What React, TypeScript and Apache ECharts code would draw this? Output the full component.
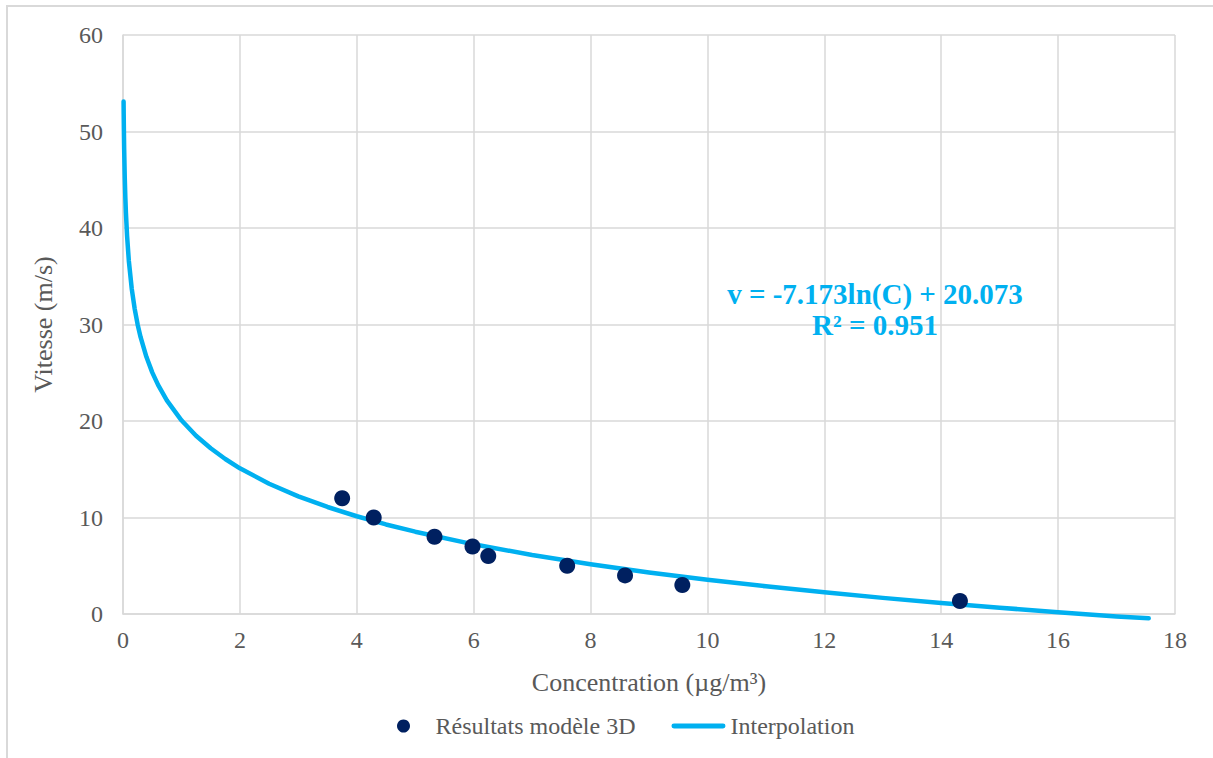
import React, { useEffect, useRef } from "react";
import * as echarts from "echarts";

// Scatter: results of the 3D model (Concentration µg/m³, Vitesse m/s)
const modelConcentration = [3.75, 4.29, 5.33, 5.98, 6.25, 7.6, 8.59, 9.57, 14.32];
const modelSpeed = [12, 10, 8, 7, 6, 5, 4, 3, 1.35];

// Interpolation curve (points along the trend line)
const interpConcentration = [
  0.01, 0.012, 0.015, 0.02, 0.03, 0.04, 0.05, 0.07, 0.1, 0.15, 0.2, 0.25, 0.3, 0.4, 0.5, 0.6,
  0.75, 1, 1.25, 1.5, 1.75, 2, 2.5, 3, 3.5, 4, 4.5, 5, 6, 7, 8, 9, 10, 11, 12, 13, 14, 15, 16,
  17, 17.55,
];
const interpSpeed = [
  53.1, 51.8, 50.2, 48.13, 45.23, 43.16, 41.56, 39.15, 36.59, 33.68, 31.62, 30.01, 28.71,
  26.65, 25.04, 23.74, 22.14, 20.07, 18.47, 17.17, 16.06, 15.1, 13.5, 12.19, 11.09, 10.13,
  9.28, 8.53, 7.22, 6.12, 5.16, 4.31, 3.56, 2.87, 2.25, 1.67, 1.14, 0.65, 0.19, -0.25, -0.45,
];

const seriesNames = ["Résultats modèle 3D", "Interpolation"];
const xAxisTitle = "Concentration (µg/m³)";
const yAxisTitle = "Vitesse (m/s)";
const equationText = "v = -7.173ln(C) + 20.073";
const r2Text = "R² = 0.951";

const FONT = "'Liberation Serif', 'Times New Roman', serif";
const TEXT = "#595959";
const GRID = "#D9D9D9";

export default function App() {
  const ref = useRef<HTMLDivElement>(null);

  useEffect(() => {
    if (!ref.current) return;
    const chart = echarts.init(ref.current, undefined, { renderer: "svg" });
    const option = {
      animation: false,
      backgroundColor: "#ffffff",
      textStyle: { fontFamily: FONT },
      grid: { left: 123, right: 38, top: 35, bottom: 144 },
      xAxis: {
        type: "value",
        min: 0,
        max: 18,
        interval: 2,
        name: xAxisTitle,
        nameLocation: "middle",
        nameGap: 55,
        nameTextStyle: { color: TEXT, fontSize: 26, fontFamily: FONT },
        axisLine: { show: true, lineStyle: { color: GRID, width: 1.5 } },
        axisTick: { show: false },
        axisLabel: { color: TEXT, fontSize: 24, fontFamily: FONT, margin: 14 },
        splitLine: { show: true, lineStyle: { color: GRID, width: 1.5 } },
      },
      yAxis: {
        type: "value",
        min: 0,
        max: 60,
        interval: 10,
        name: yAxisTitle,
        nameLocation: "middle",
        nameGap: 67,
        nameTextStyle: { color: TEXT, fontSize: 26, fontFamily: FONT },
        axisLine: { show: true, lineStyle: { color: GRID, width: 1.5 } },
        axisTick: { show: false },
        axisLabel: { color: TEXT, fontSize: 24, fontFamily: FONT, margin: 20 },
        splitLine: { show: true, lineStyle: { color: GRID, width: 1.5 } },
      },
      legend: {
        bottom: 15,
        left: 392,
        itemWidth: 54,
        itemHeight: 13,
        itemGap: 36,
        textStyle: { color: TEXT, fontSize: 24, fontFamily: FONT },
        data: [
          { name: seriesNames[0], icon: "circle" },
          { name: seriesNames[1], icon: "path://M2,0 L52,0 A2.5,2.5 0 0 1 52,5 L2,5 A2.5,2.5 0 0 1 2,0 Z" },
        ],
      },
      graphic: [
        {
          type: "rect",
          shape: { x: 7, y: 6, width: 1230, height: 800 },
          style: { fill: "none", stroke: GRID, lineWidth: 2 },
          silent: true,
        },
        {
          type: "text",
          x: 875,
          y: 294,
          style: {
            text: equationText,
            fill: "#00B0F0",
            font: `bold 29px ${FONT}`,
            textAlign: "center",
            textVerticalAlign: "middle",
          },
          z: 10,
        },
        {
          type: "text",
          x: 875,
          y: 325,
          style: {
            text: r2Text,
            fill: "#00B0F0",
            font: `bold 29px ${FONT}`,
            textAlign: "center",
            textVerticalAlign: "middle",
          },
          z: 10,
        },
      ],
      series: [
        {
          name: seriesNames[1],
          type: "line",
          data: interpConcentration.map((c, i) => [c, interpSpeed[i]]),
          symbol: "none",
          smooth: false,
          clip: false,
          lineStyle: { color: "#00B0F0", width: 4.5, cap: "round", join: "round" },
          itemStyle: { color: "#00B0F0" },
          z: 2,
        },
        {
          name: seriesNames[0],
          type: "scatter",
          data: modelConcentration.map((c, i) => [c, modelSpeed[i]]),
          symbol: "circle",
          symbolSize: 16,
          itemStyle: { color: "#002060", opacity: 1 },
          z: 3,
        },
      ],
    };
    chart.setOption(option);
    return () => chart.dispose();
  }, []);

  return (
    <div
      ref={ref}
      style={{ position: "fixed", left: 0, top: 0, width: 1213, height: 758 }}
    />
  );
}
